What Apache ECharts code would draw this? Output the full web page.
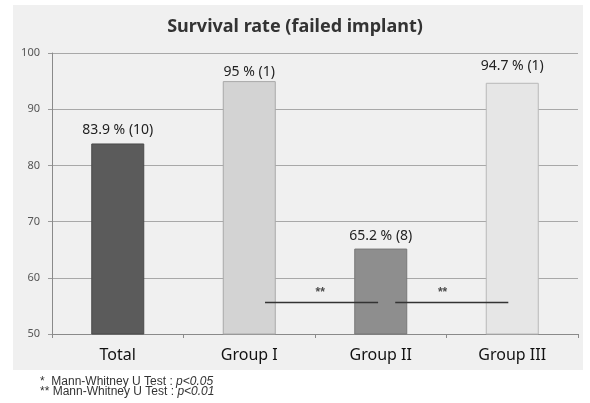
<!DOCTYPE html>
<html>
<head>
<meta charset="utf-8">
<script src="https://cdn.jsdelivr.net/npm/echarts@6/dist/echarts.min.js"></script>
<style>
  html, body { margin: 0; padding: 0; background: #ffffff; }
  #chart { width: 590px; height: 403px; }
</style>
</head>
<body>
<div id="chart"></div>
<script>
// Survival rate per group and number of failed implants
const categories = ['Total', 'Group I', 'Group II', 'Group III'];
const survivalRates = [83.9, 95, 65.2, 94.7];
const failedCounts = [10, 1, 8, 1];
const barColors = ['#5b5b5b', '#d3d3d3', '#8e8e8e', '#e6e6e6'];
const barBorders = ['#4a4a4a', '#a8a8a8', '#777777', '#b8b8b8'];
const labelOffsets = [-1, 3, -1, -5];

// Significance brackets, in category-index units along x and percent along y
const sigFrom = [1.12, 2.11];
const sigTo = [1.98, 2.97];
const sigLevel = [55.6, 55.6];
const sigMarkX = [1.54, 2.47];
const sigMarkY = [57.4, 57.3];
const sigMarks = ['**', '**'];

const yTicks = { min: 50, max: 100, interval: 10 };

const chart = echarts.init(document.getElementById('chart'), null, { renderer: 'canvas' });

const barData = survivalRates.map((v, i) => ({
  value: v,
  itemStyle: { color: barColors[i], borderColor: barBorders[i], borderWidth: 1 },
  label: { offset: [0, labelOffsets[i]] }
}));

const bracketSeries = sigFrom.map((f, i) => ({
  type: 'line',
  xAxisIndex: 1,
  yAxisIndex: 0,
  data: [[f, sigLevel[i]], [sigTo[i], sigLevel[i]]],
  symbol: 'none',
  lineStyle: { color: '#333333', width: 1.5 },
  silent: true,
  z: 5
}));

const markSeries = {
  type: 'scatter',
  xAxisIndex: 1,
  yAxisIndex: 0,
  symbolSize: 0,
  data: sigMarkX.map((x, i) => ({ value: [x, sigMarkY[i]], name: sigMarks[i] })),
  label: {
    show: true,
    position: 'inside',
    formatter: p => p.name,
    color: '#222',
    fontSize: 12,
    fontWeight: 'bold',
    fontFamily: 'Liberation Sans'
  },
  silent: true,
  z: 6
};

const sans = '"Noto Sans", "Open Sans", sans-serif';

chart.setOption({
  animation: false,
  backgroundColor: '#ffffff',
  graphic: [
    {
      type: 'rect',
      z: -10,
      shape: { x: 13, y: 5, width: 570, height: 365 },
      style: { fill: '#f0f0f0' },
      silent: true
    },
    {
      type: 'text',
      left: 40,
      top: 376,
      style: {
        text: '{n|*  Mann-Whitney U Test : }{i|p<0.05}\n{n|** Mann-Whitney U Test : }{i|p<0.01}',
        rich: {
          n: { fontSize: 12, fontFamily: 'Liberation Sans', fill: '#333', lineHeight: 10 },
          i: { fontSize: 12, fontFamily: 'Liberation Sans', fontStyle: 'italic', fill: '#333', lineHeight: 10 }
        }
      }
    }
  ],
  title: {
    text: 'Survival rate (failed implant)',
    left: 'center',
    top: 13,
    textStyle: { fontSize: 18, fontWeight: 'bold', color: '#333', fontFamily: sans }
  },
  grid: { left: 52, right: 12, top: 53, bottom: 69, containLabel: false },
  xAxis: [
    {
      type: 'category',
      data: categories,
      axisLine: { lineStyle: { color: '#8a8a8a', width: 1 } },
      axisTick: { show: true, length: 4, inside: false, alignWithLabel: false, lineStyle: { color: '#8a8a8a' } },
      axisLabel: { fontSize: 16, color: '#111', margin: 13, fontFamily: sans }
    },
    {
      type: 'value',
      min: -0.5,
      max: 3.5,
      show: false
    }
  ],
  yAxis: {
    type: 'value',
    min: yTicks.min,
    max: yTicks.max,
    interval: yTicks.interval,
    axisLine: { show: true, onZero: false, lineStyle: { color: '#8a8a8a' } },
    axisTick: { show: true, length: 4, lineStyle: { color: '#9a9a9a' } },
    axisLabel: { fontSize: 11, color: '#555', margin: 12, fontFamily: sans },
    splitLine: { show: true, lineStyle: { color: '#a8a8a8', width: 1 } }
  },
  series: [
    {
      type: 'bar',
      data: barData,
      barWidth: 53,
      label: {
        show: true,
        position: 'top',
        distance: 5,
        fontSize: 14,
        color: '#222',
        fontFamily: sans,
        formatter: p => `${survivalRates[p.dataIndex]} % (${failedCounts[p.dataIndex]})`
      },
      z: 3
    },
    ...bracketSeries,
    markSeries
  ]
});
</script>
</body>
</html>
